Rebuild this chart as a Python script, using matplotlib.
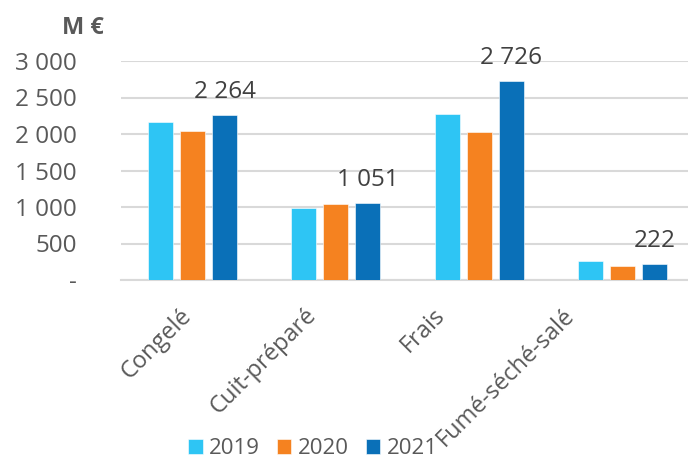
import numpy as np
import matplotlib.pyplot as plt
from matplotlib.transforms import ScaledTranslation

plt.rcParams['font.family'] = ['Open Sans', 'DejaVu Sans']

categories = ['Congelé', 'Cuit-préparé', 'Frais', 'Fumé-séché-salé']
years = ['2019', '2020', '2021']
v2019 = [2168, 990, 2274, 260]
v2020 = [2041, 1037, 2023, 196]
v2021 = [2264, 1051, 2726, 222]
colors = ['#2EC5F4', '#F58220', '#0A70B8']

fig = plt.figure(figsize=(6.88, 4.63), dpi=100)
ax = fig.add_axes([121 / 688, (463 - 280) / 463, (694 - 121) / 688, 219 / 463])

x = np.arange(len(categories))
w = 0.175
step = 0.223
for i, (vals, yr, c) in enumerate(zip([v2019, v2020, v2021], years, colors)):
    ax.bar(x + (i - 1) * step, vals, width=w, color=c, label=yr,
           edgecolor='white', linewidth=0.4, zorder=3)

# labels only on 2021
for xi, v in zip(x, v2021):
    ax.text(xi + step, v + 150, f"{v:,}".replace(',', ' '), ha='center', va='bottom',
            fontsize=17.5, color='#404040')

ax.set_xlim(-0.5, 3.5)
ax.set_ylim(0, 3000)
yt = [0, 500, 1000, 1500, 2000, 2500, 3000]
ax.set_yticks(yt)
ax.set_yticklabels(['-'] + [f"{t:,}".replace(',', ' ') for t in yt[1:]])
ax.yaxis.grid(True, color='#D9D9D9', linewidth=1.5, zorder=0)
ax.tick_params(axis='y', length=0, pad=32, labelsize=17.5, labelcolor='#595959')
ax.tick_params(axis='x', length=0, pad=17, labelsize=17, labelcolor='#595959')
ax.set_xticks(x)
ax.set_xticklabels(categories, rotation=45, ha='right', rotation_mode='anchor')
# excel shifts the rotated labels progressively to the left
shifts = [-13, -32, -46, -60]
for lab, dx in zip(ax.get_xticklabels(), shifts):
    lab.set_transform(lab.get_transform() + ScaledTranslation(dx / 100, 0, fig.dpi_scale_trans))
for s in ['top', 'right', 'left']:
    ax.spines[s].set_visible(False)
ax.spines['bottom'].set_color('#D9D9D9')
ax.spines['bottom'].set_linewidth(1.5)

fig.text(62 / 688, 1 - 28 / 463, 'M €', fontsize=17, fontweight='bold',
         color='#595959', va='center', ha='left')

fig.legend(loc='center', bbox_to_anchor=(313 / 688, 1 - 449 / 463), ncol=3,
           frameon=False, fontsize=16, handlelength=0.65, handleheight=0.65,
           handletextpad=0.3, columnspacing=0.75, labelcolor='#595959',
           borderpad=0.1)

fig.savefig('out.png', dpi=100)
